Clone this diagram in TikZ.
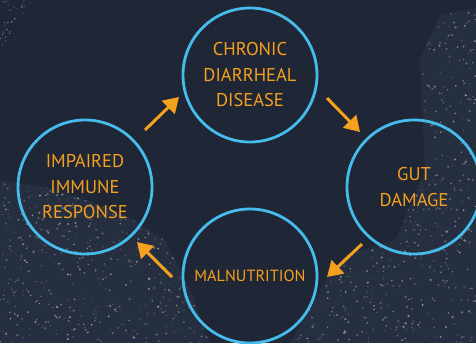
\documentclass[tikz,border=0pt]{standalone}
\usepackage{fontspec}
\setmainfont{PT Sans}
\usetikzlibrary{arrows.meta}
\definecolor{bgnavy}{HTML}{1F2636}
\definecolor{patchgray}{HTML}{273041}
\definecolor{ringblue}{HTML}{45BCEB}
\definecolor{labelorange}{HTML}{F5A01E}
\tikzset{
  stage/.style={circle, draw=ringblue, line width=2.8pt, minimum size=134pt,
    inner sep=0pt, text=labelorange, align=center,
    font=\fontsize{18.5}{25.5}\selectfont},
  flow/.style={draw=labelorange, line width=3pt,
    -{Triangle[length=15pt,width=18pt]}},
  speck/.style={fill=white}
}
\begin{document}
\begin{tikzpicture}[x=1pt,y=-1pt]
  \useasboundingbox (0,0) rectangle (476,343);
  \fill[bgnavy] (0,0) rectangle (476,343);

  % grainy worn patches
  \pgfmathsetseed{11}
  \begin{scope}
    \clip (0,180) -- (50,188) -- (120,212) -- (165,240) -- (190,290) -- (210,343)
          -- (0,343) -- cycle
          (290,343) -- (320,290) -- (345,255) -- (395,240) -- (425,170) -- (420,60)
          -- (440,15) -- (476,8) -- (476,343) -- cycle;
    \fill[patchgray, opacity=0.9] (0,0) rectangle (476,343);
    \foreach \i in {1,...,2600} {
      \pgfmathsetmacro{\px}{rnd*476}
      \pgfmathsetmacro{\py}{rnd*343}
      \pgfmathsetmacro{\op}{0.1+0.4*rnd}
      \pgfmathsetmacro{\rr}{0.5+0.7*rnd}
      \fill[speck, opacity=\op] (\px,\py) circle[radius=\rr];
    }
  \end{scope}
  \begin{scope}
    \clip (0,0) -- (28,0) -- (20,25) -- (0,48) -- cycle;
    \foreach \i in {1,...,40} {
      \pgfmathsetmacro{\px}{rnd*28}
      \pgfmathsetmacro{\py}{rnd*48}
      \pgfmathsetmacro{\op}{0.12+0.35*rnd}
      \fill[speck, opacity=\op] (\px,\py) circle[radius=0.9];
    }
  \end{scope}

  % the four stages of the cycle
  \node[stage] (chronic) at (250,75) {CHRONIC\\DIARRHEAL\\DISEASE};
  \node[stage] (gut) at (414,187) {GUT\\DAMAGE};
  \node[stage, font=\fontsize{16.2}{20}\selectfont] (malnut) at (250,276) {MALNUTRITION};
  \node[stage] (immune) at (85,187) {IMPAIRED\\IMMUNE\\RESPONSE};

  % arrow end points between the stages
  \coordinate (a1s) at (145,130); \coordinate (a1e) at (179,97);
  \coordinate (a2s) at (327,98);  \coordinate (a2e) at (360,132);
  \coordinate (a3s) at (362,244); \coordinate (a3e) at (327,277);
  \coordinate (a4s) at (172,277); \coordinate (a4e) at (137,242);

  \draw[flow] (a1s) -- (a1e);
  \draw[flow] (a2s) -- (a2e);
  \draw[flow] (a3s) -- (a3e);
  \draw[flow] (a4s) -- (a4e);
\end{tikzpicture}
\end{document}
